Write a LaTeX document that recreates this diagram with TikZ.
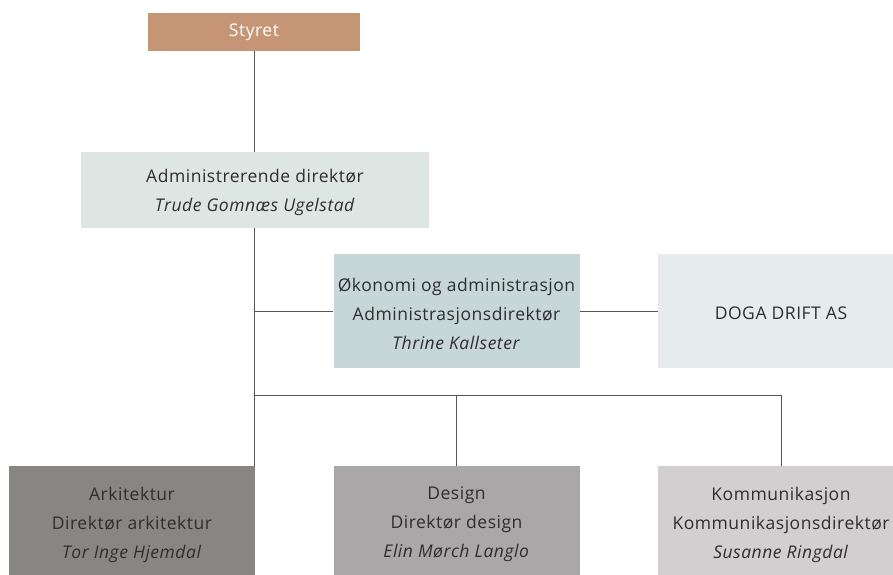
\documentclass[tikz,border=0pt]{standalone}
\usepackage{fontspec}
\setmainfont{Open Sans}[LetterSpace=3]
\begin{document}
\begin{tikzpicture}[x=1pt,y=-1pt,
  box/.style={draw=none,inner sep=0pt,minimum width=246pt,minimum height=114pt},
  lbl/.style={align=center,inner sep=0pt,text=txt,font=\fontsize{17.5}{29}\selectfont},
  conn/.style={draw=lin,line width=1pt}]
\definecolor{txt}{HTML}{2E2E2E}
\definecolor{lin}{HTML}{555555}
\definecolor{cStyret}{HTML}{C69576}
\definecolor{cAdm}{HTML}{DEE6E4}
\definecolor{cOko}{HTML}{C7D6D6}
\definecolor{cDoga}{HTML}{E6ECEC}
\definecolor{cArk}{HTML}{8A8585}
\definecolor{cDes}{HTML}{A9A7A8}
\definecolor{cKom}{HTML}{D1CFD0}
\useasboundingbox (0,0) rectangle (893,574);
\fill[white] (0,0) rectangle (893,574);
% boxes
\node[box,fill=cStyret,minimum width=212pt,minimum height=38pt] (styret) at (254,32) {};
\node[box,fill=cAdm,minimum width=348pt,minimum height=76pt] (adm) at (255,190) {};
\node[box,fill=cOko] (oko) at (456.5,311) {};
\node[box,fill=cDoga] (doga) at (781,311) {};
\node[box,fill=cArk] (ark) at (132,523) {};
\node[box,fill=cDes] (des) at (456.5,523) {};
\node[box,fill=cKom] (kom) at (781,523) {};
% texts
\node[lbl,text=white] (tstyret) at ([yshift=-0.5pt]styret.center) {Styret};
\node[lbl] (tadm) at ([yshift=-2pt]adm.center) {Administrerende direktør\\\textit{Trude Gomnæs Ugelstad}};
\node[lbl] (toko) at ([yshift=-2.5pt]oko.center) {Økonomi og administrasjon\\Administrasjonsdirektør\\\textit{Thrine Kallseter}};
\node[lbl] (tdoga) at ([yshift=-2pt]doga.center) {DOGA DRIFT AS};
\node[lbl] (tark) at ([yshift=-1.5pt]ark.center) {Arkitektur\\Direktør arkitektur\\\textit{Tor Inge Hjemdal}};
\node[lbl] (tdes) at ([yshift=-1.5pt]des.center) {Design\\Direktør design\\\textit{Elin Mørch Langlo}};
\node[lbl] (tkom) at ([yshift=-1.5pt]kom.center) {Kommunikasjon\\Kommunikasjonsdirektør\\\textit{Susanne Ringdal}};
% connectors
\coordinate (a0) at (254,228);
\coordinate (j1) at (254,311);
\coordinate (j2) at (254,395);
\coordinate (a1) at (254,466);
\coordinate (j3) at (456.5,395);
\coordinate (j4) at (781,395);
\draw[conn] (styret.south) -- (styret.south |- adm.north);
\draw[conn] (a0) -- (a1);
\draw[conn] (j1) -- (oko.west);
\draw[conn] (oko.east) -- (doga.west);
\draw[conn] (j2) -- (j4);
\draw[conn] (j3) -- (des.north);
\draw[conn] (j4) -- (kom.north);
\end{tikzpicture}
\end{document}
